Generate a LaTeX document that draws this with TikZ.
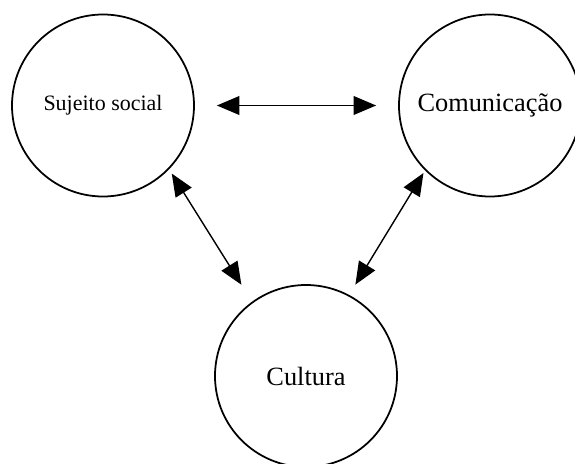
\documentclass[tikz,border=0pt]{standalone}
\usepackage{fontspec}
\setmainfont{Liberation Serif}
\usetikzlibrary{arrows.meta}

\begin{document}
\begin{tikzpicture}[
  conceito/.style={draw, circle, line width=2pt, minimum size=7.28cm, inner sep=0pt},
  seta/.style={{Triangle[length=0.9cm, width=0.75cm]}-{Triangle[length=0.9cm, width=0.75cm]}, line width=1.6pt}]
  \useasboundingbox (0,0) rectangle (23,18.52);
  \node[conceito, font=\fontsize{25}{30}\selectfont] (soc) at (4.12,14.3) {Sujeito social};
  \node[conceito, font=\fontsize{30}{36}\selectfont] (com) at (19.6,14.3) {Comunicação};
  \node[conceito, font=\fontsize{30}{36}\selectfont] (cul) at (12.24,3.48) {Cultura};
  \draw[seta, shorten <=0.88cm, shorten >=0.88cm] (soc.east) -- (com.west);
  \draw[seta, shorten <=0.2cm, shorten >=0.8cm] (soc.-44) -- (cul.126);
  \draw[seta, shorten <=0.12cm, shorten >=0.48cm] (com.-135) -- (cul.62);
\end{tikzpicture}
\end{document}
